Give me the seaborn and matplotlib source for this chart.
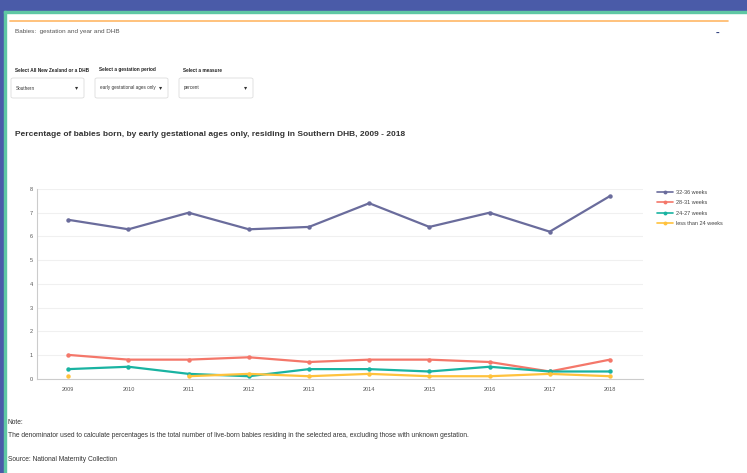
import numpy as np
import pandas as pd
import matplotlib
matplotlib.use("Agg")
import matplotlib.pyplot as plt
from matplotlib.patches import Rectangle, FancyBboxPatch
from matplotlib.lines import Line2D
import seaborn as sns

years = [2009, 2010, 2011, 2012, 2013, 2014, 2015, 2016, 2017, 2018]
w32_36 = [6.7, 6.3, 7.0, 6.3, 6.4, 7.4, 6.4, 7.0, 6.2, 7.7]
w28_31 = [1.0, 0.8, 0.8, 0.9, 0.7, 0.8, 0.8, 0.7, 0.3, 0.8]
w24_27 = [0.4, 0.5, 0.2, 0.1, 0.4, 0.4, 0.3, 0.5, 0.3, 0.3]
lt24 = [0.1, np.nan, 0.1, 0.2, 0.1, 0.2, 0.1, 0.1, 0.2, 0.1]
series_names = ["32-36 weeks", "28-31 weeks", "24-27 weeks", "less than 24 weeks"]
colors = ["#6a6c9c", "#f4776a", "#19b3a1", "#ffc23d"]
y_ticks = [0, 1, 2, 3, 4, 5, 6, 7, 8]

sns.set_style("white")
plt.rcParams["font.family"] = ["Liberation Sans", "DejaVu Sans"]

W, H = 747, 473
fig = plt.figure(figsize=(W / 100, H / 100), dpi=100)

def fx(x):
    return x / W

def fy(y):
    return 1 - y / H

# frame decoration
fig.patches.append(Rectangle((0, fy(11)), 1, 11 / H, transform=fig.transFigure, color="#4a5ba8", zorder=0))
fig.patches.append(Rectangle((0, 0), fx(4), 1, transform=fig.transFigure, color="#4a5ba8", zorder=0))
fig.patches.append(Rectangle((fx(4), 0), fx(2), fy(11), transform=fig.transFigure, color="#5fc7a4", zorder=1))
fig.patches.append(Rectangle((fx(4), fy(13)), 1, 2 / H, transform=fig.transFigure, color="#5fc7a4", zorder=1))
fig.lines.append(Line2D([fx(10), fx(728)], [fy(21.5), fy(21.5)], transform=fig.transFigure, color="#ffb866", lw=1.2))

fig.text(fx(15), fy(32), "Babies:  gestation and year and DHB", fontsize=4.6, color="#555555", va="center")
fig.text(fx(717), fy(33), "-", fontsize=8, color="#2a3a7a", va="center", ha="center", fontweight="bold")

# dropdowns
labels = ["Select All New Zealand or a DHB", "Select a gestation period", "Select a measure"]
values = ["Southern", "early gestational ages only", "percent"]
boxes = [(11, 84), (95, 168), (179, 253)]
for lab, val, (x0, x1) in zip(labels, values, boxes):
    fig.text(fx(x0 + 4), fy(70), lab, fontsize=3.4, color="#222222", fontweight="bold", va="center")
    fig.patches.append(FancyBboxPatch((fx(x0), fy(98)), fx(x1 - x0), 20 / H,
                                      boxstyle="round,pad=0,rounding_size=0.003",
                                      transform=fig.transFigure, facecolor="white",
                                      edgecolor="#dddddd", lw=0.6))
    fig.text(fx(x0 + 5), fy(88), val, fontsize=3.3, color="#333333", va="center")
    fig.text(fx(x1 - 7), fy(88), "\u25be", fontsize=4.5, color="#333333", va="center", ha="center",
             family="DejaVu Sans")

fig.text(fx(15), fy(134), "Percentage of babies born, by early gestational ages only, residing in Southern DHB, 2009 - 2018",
         fontsize=6.05, color="#333333", fontweight="bold", va="center")

# data frame
df = pd.DataFrame({
    "year": years * 4,
    "value": w32_36 + w28_31 + w24_27 + lt24,
    "series": [s for s in series_names for _ in years],
})

ax = fig.add_axes([fx(37), fy(378.6), fx(643 - 37), (378.6 - 189) / H])
palette = dict(zip(series_names, colors))
for name in series_names:
    sub = df[df["series"] == name]
    valid = sub["value"].notna()
    grp = (~valid).cumsum()
    for _, part in sub[valid].groupby(grp[valid]):
        sns.lineplot(data=part, x="year", y="value", ax=ax, color=palette[name],
                     marker="o", markersize=3.2, markeredgewidth=0, lw=1.6, legend=False)

ax.set_xlim(2008.48, 2018.55)
ax.set_ylim(0, 8)
ax.set_xticks(years)
ax.set_yticks(y_ticks)
ax.set_xticklabels([str(y) for y in years])
ax.tick_params(axis="both", labelsize=4.0, colors="#555555", length=0, pad=6)
ax.tick_params(axis="y", pad=3)
ax.grid(axis="y", color="#f0f0f0", lw=0.8)
ax.set_axisbelow(True)
for s in ["top", "right"]:
    ax.spines[s].set_visible(False)
for s in ["left", "bottom"]:
    ax.spines[s].set_color("#cccccc")
    ax.spines[s].set_linewidth(0.8)
ax.set_xlabel("")
ax.set_ylabel("")

handles = [Line2D([0], [0], color=c, marker="o", markersize=2.8, markeredgewidth=0, lw=1.2) for c in colors]
fig.legend(handles, series_names, loc="upper left", bbox_to_anchor=(fx(654), fy(187)),
           frameon=False, fontsize=4.0, labelcolor="#444444", handlelength=3.0,
           handletextpad=0.4, labelspacing=1.0, borderpad=0)

fig.text(fx(8), fy(422), "Note:", fontsize=4.75, color="#333333", va="center")
fig.text(fx(8), fy(435), "The denominator used to calculate percentages is the total number of live-born babies residing in the selected area, excluding those with unknown gestation.",
         fontsize=4.75, color="#333333", va="center")
fig.text(fx(8), fy(459), "Source: National Maternity Collection", fontsize=4.75, color="#333333", va="center")

fig.savefig("out.png", dpi=100)
